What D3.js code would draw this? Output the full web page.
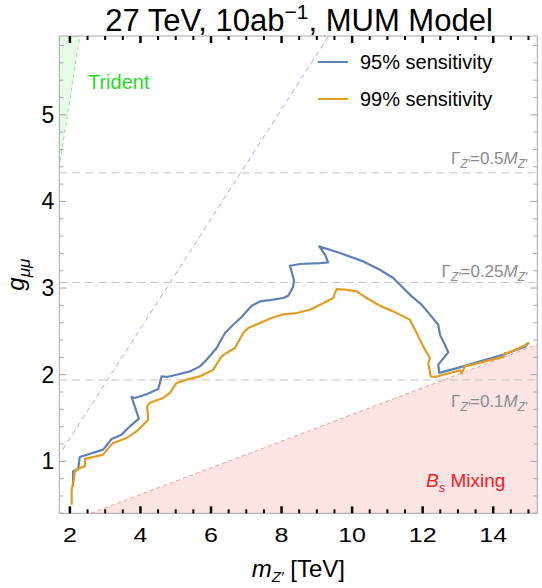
<!DOCTYPE html>
<html>
<head>
<meta charset="utf-8">
<script src="https://cdn.jsdelivr.net/npm/d3@7"></script>
<style>
  body { margin: 0; background: #fff; }
  svg { font-family: "Liberation Sans", Arial, sans-serif; }
</style>
</head>
<body>
<svg width="542" height="588"></svg>
<script>
//Contour of the 95% sensitivity (mass in TeV, coupling)
let mass95 = [2.09, 2.09, 2.235, 2.28, 2.944, 3.182, 3.466, 3.701, 3.956, 3.749, 3.843, 4.192, 4.504, 4.6, 4.742, 5.025, 5.402, 5.686, 5.876, 6.159, 6.395, 6.63, 6.868, 7.152, 7.387, 7.764, 8.048, 8.19, 8.331, 8.351, 8.238, 8.521, 9.088, 9.324, 9.23, 9.068, 9.655, 10.316, 10.789, 11.166, 11.45, 11.688, 11.972, 12.207, 12.442, 12.49, 12.632, 12.726, 12.442, 12.47, 12.632, 13.151, 13.625, 14.285, 14.665, 14.9, 15.01];
let g95 = [0.71, 0.885, 0.91, 1.05, 1.135, 1.258, 1.308, 1.404, 1.493, 1.743, 1.731, 1.778, 1.835, 1.981, 1.974, 2.0, 2.038, 2.096, 2.173, 2.308, 2.481, 2.577, 2.666, 2.796, 2.846, 2.866, 2.885, 2.912, 3.019, 3.096, 3.258, 3.278, 3.289, 3.296, 3.385, 3.481, 3.405, 3.308, 3.212, 3.116, 3.0, 2.904, 2.808, 2.693, 2.577, 2.462, 2.346, 2.258, 2.116, 2.02, 2.038, 2.096, 2.154, 2.231, 2.289, 2.32, 2.373];
//Contour of the 99% sensitivity
let mass99 = [2.05, 2.05, 2.113, 2.142, 2.284, 2.425, 2.425, 2.944, 3.134, 3.228, 3.608, 3.891, 4.22, 4.192, 4.248, 4.645, 4.835, 5.025, 5.309, 5.686, 5.969, 6.063, 6.301, 6.443, 6.678, 6.914, 7.055, 7.387, 7.719, 8.002, 8.428, 8.805, 9.278, 9.465, 9.513, 9.562, 9.845, 10.129, 10.412, 10.789, 11.166, 11.64, 11.83, 12.017, 12.207, 12.159, 12.227, 12.349, 13.058, 13.106, 13.199, 14.285, 14.333, 14.427, 14.852, 15.01];
let g99 = [0.5, 0.673, 0.789, 0.885, 0.924, 0.942, 1.028, 1.077, 1.173, 1.212, 1.27, 1.346, 1.481, 1.635, 1.674, 1.732, 1.789, 1.905, 1.943, 1.981, 2.038, 2.058, 2.211, 2.251, 2.308, 2.481, 2.539, 2.597, 2.655, 2.693, 2.712, 2.75, 2.846, 2.885, 2.943, 2.989, 2.981, 2.961, 2.885, 2.796, 2.731, 2.635, 2.481, 2.327, 2.193, 2.135, 1.981, 1.974, 2.05, 2.02, 2.096, 2.205, 2.251, 2.251, 2.327, 2.373];

//Width lines: g where Gamma = ratio * M
let widthRatios = ["0.5", "0.25", "0.1"];
let widthG = [4.33, 3.065, 1.94];

//Slopes g/m of the straight boundaries
let tridentSlope = 2.59;   //Trident excluded above
let diagSlope = 0.633;     //blue dashed diagonal
let bsSlope = 0.154;       //Bs mixing excluded below

//Ticks
let xMajor = [2, 4, 6, 8, 10, 12, 14];
let xMinor = d3.range(2, 15.01, 0.5);
let yMajor = [1, 2, 3, 4, 5];
let yMinor = d3.range(0.4, 5.81, 0.2);

let legendNames = ["95% sensitivity", "99% sensitivity"];
let colors = ["#5e81b5", "#e19c24"];

let svg = d3.select("svg"),
    margin = {top: 36, right: 4.7, bottom: 74.7, left: 59.3},
    width = +svg.attr("width") - margin.left - margin.right,
    height = +svg.attr("height") - margin.top - margin.bottom;

let x = d3.scaleLinear().domain([1.7, 15.25]).range([0, width]);
let y = d3.scaleLinear().domain([0.4, 5.91]).range([height, 0]);

let plot = svg.append("g")
    .attr("transform", "translate(" + margin.left + "," + margin.top + ")");

plot.append("clipPath").attr("id", "clip")
  .append("rect").attr("width", width).attr("height", height);

let area = plot.append("g").attr("clip-path", "url(#clip)");

let line = d3.line().x(d => x(d[0])).y(d => y(d[1]));
let xr = x.domain(), yr = y.domain();

//Trident region (upper left)
let tri = [[0, 0], [yr[1] / tridentSlope, yr[1]], [0, yr[1]]];
area.append("path").attr("d", line(tri) + "Z")
    .attr("fill", "#e6fbe6");
area.append("path").attr("d", line([[0, 0], [yr[1] / tridentSlope, yr[1]]]))
    .attr("fill", "none").attr("stroke", "#8fe88f").attr("stroke-dasharray", "4,3");

//Bs mixing region (lower right)
let bs = [[0, 0], [xr[1], bsSlope * xr[1]], [xr[1], 0]];
area.append("path").attr("d", line(bs) + "Z")
    .attr("fill", "#fde4e4");
area.append("path").attr("d", line([[0, 0], [xr[1], bsSlope * xr[1]]]))
    .attr("fill", "none").attr("stroke", "#f59a9a").attr("stroke-dasharray", "4,3");

//Diagonal dashed line
area.append("path").attr("d", line([[0, 0], [yr[1] / diagSlope, yr[1]]]))
    .attr("fill", "none").attr("stroke", "#9b9bf5").attr("stroke-width", 0.9)
    .attr("stroke-dasharray", "5,4");

//Width lines
widthG.forEach(function(g) {
  area.append("line")
      .attr("x1", 0).attr("x2", width)
      .attr("y1", y(g)).attr("y2", y(g))
      .attr("stroke", "#c4c4c4").attr("stroke-dasharray", "8,5");
});

//Contours
let curves = [d3.zip(mass95, g95), d3.zip(mass99, g99)];
curves.forEach(function(c, i) {
  area.append("path").attr("d", line(c))
      .attr("fill", "none").attr("stroke", colors[i])
      .attr("stroke-width", 2.2).attr("stroke-linejoin", "round");
});

//Frame
plot.append("rect").attr("width", width).attr("height", height)
    .attr("fill", "none").attr("stroke", "#a6a6a6");

//Ticks: bottom and top black, left and right gray
function hTicks(vals, len, w) {
  vals.forEach(function(v) {
    plot.append("line").attr("x1", x(v)).attr("x2", x(v))
        .attr("y1", height).attr("y2", height - len)
        .attr("stroke", "#000").attr("stroke-width", w);
    plot.append("line").attr("x1", x(v)).attr("x2", x(v))
        .attr("y1", 0).attr("y2", len)
        .attr("stroke", "#000").attr("stroke-width", w);
  });
}
hTicks(xMinor.filter(v => xMajor.indexOf(v) < 0), 4, 2);
hTicks(xMajor, 7, 2.5);

function vTicks(vals, len) {
  vals.forEach(function(v) {
    plot.append("line").attr("x1", 0).attr("x2", len)
        .attr("y1", y(v)).attr("y2", y(v))
        .attr("stroke", "#a6a6a6");
    plot.append("line").attr("x1", width).attr("x2", width - len)
        .attr("y1", y(v)).attr("y2", y(v))
        .attr("stroke", "#a6a6a6");
  });
}
vTicks(yMinor.filter(v => yMajor.indexOf(Math.round(v * 10) / 10) < 0), 4);
vTicks(yMajor, 7);

//Tick labels
plot.selectAll(".xlab").data(xMajor).enter().append("text")
    .attr("class", "xlab")
    .attr("text-anchor", "middle")
    .attr("transform", d => "translate(" + x(d) + "," + (height + 28.5) + ") scale(1,0.8)")
    .attr("font-size", 25)
    .text(d => d);
plot.selectAll(".ylab").data(yMajor).enter().append("text")
    .attr("class", "ylab")
    .attr("text-anchor", "end")
    .attr("x", -5).attr("y", d => y(d) + 8)
    .attr("font-size", 23)
    .text(d => d);

//Title
svg.append("text").attr("x", 299).attr("y", 31)
    .attr("text-anchor", "middle").attr("font-size", 31)
    .call(t => {
      t.append("tspan").text("27 TeV, 10ab");
      t.append("tspan").attr("dy", -12).attr("font-size", 21).text("\u22121");
      t.append("tspan").attr("dy", 12).text(", MUM Model");
    });

//Axis labels
svg.append("text").attr("x", margin.left + width / 2).attr("y", 577)
    .attr("text-anchor", "middle").attr("font-size", 24)
    .call(t => {
      t.append("tspan").attr("font-style", "italic").text("m");
      t.append("tspan").attr("dy", 5).attr("font-size", 15).attr("font-style", "italic").text("Z\u2032");
      t.append("tspan").attr("dy", -5).text(" [TeV]");
    });
svg.append("text")
    .attr("transform", "translate(24," + (margin.top + height / 2) + ") rotate(-90)")
    .attr("text-anchor", "middle").attr("font-size", 24)
    .call(t => {
      t.append("tspan").attr("font-style", "italic").text("g");
      t.append("tspan").attr("dy", 6).attr("font-size", 17).attr("font-style", "italic").text("\u03bc\u03bc");
    });

//Width line labels
let widthDy = [-9, -5, 27];
widthG.forEach(function(g, i) {
  plot.append("text")
      .attr("x", width - 10).attr("y", y(g) + widthDy[i])
      .attr("text-anchor", "end").attr("font-size", 17).attr("fill", "#8c8c8c")
      .call(t => {
        t.append("tspan").text("\u0393");
        t.append("tspan").attr("dy", 4).attr("font-size", 12).attr("font-style", "italic").text("Z\u2032");
        t.append("tspan").attr("dy", -4).text("=" + widthRatios[i]);
        t.append("tspan").attr("font-style", "italic").text("M");
        t.append("tspan").attr("dy", 4).attr("font-size", 12).attr("font-style", "italic").text("Z\u2032");
      });
});

//Region labels
plot.append("text").attr("x", 88 - margin.left).attr("y", 89 - margin.top)
    .attr("font-size", 20).attr("fill", "#1fdc1f").text("Trident");
plot.append("text").attr("x", 426 - margin.left).attr("y", 487 - margin.top)
    .attr("font-size", 19).attr("fill", "#f52020")
    .call(t => {
      t.append("tspan").attr("font-style", "italic").text("B");
      t.append("tspan").attr("dy", 5).attr("font-size", 13).attr("font-style", "italic").text("s");
      t.append("tspan").attr("dy", -5).text(" Mixing");
    });

//Legend
let legend = svg.append("g").attr("transform", "translate(318,62)");
legendNames.forEach(function(name, i) {
  legend.append("line").attr("x1", 0).attr("x2", 30)
      .attr("y1", i * 37).attr("y2", i * 37)
      .attr("stroke", colors[i]).attr("stroke-width", 2);
  legend.append("text").attr("x", 42).attr("y", i * 37 + 7)
      .attr("font-size", 20).text(name);
});
</script>
</body>
</html>
